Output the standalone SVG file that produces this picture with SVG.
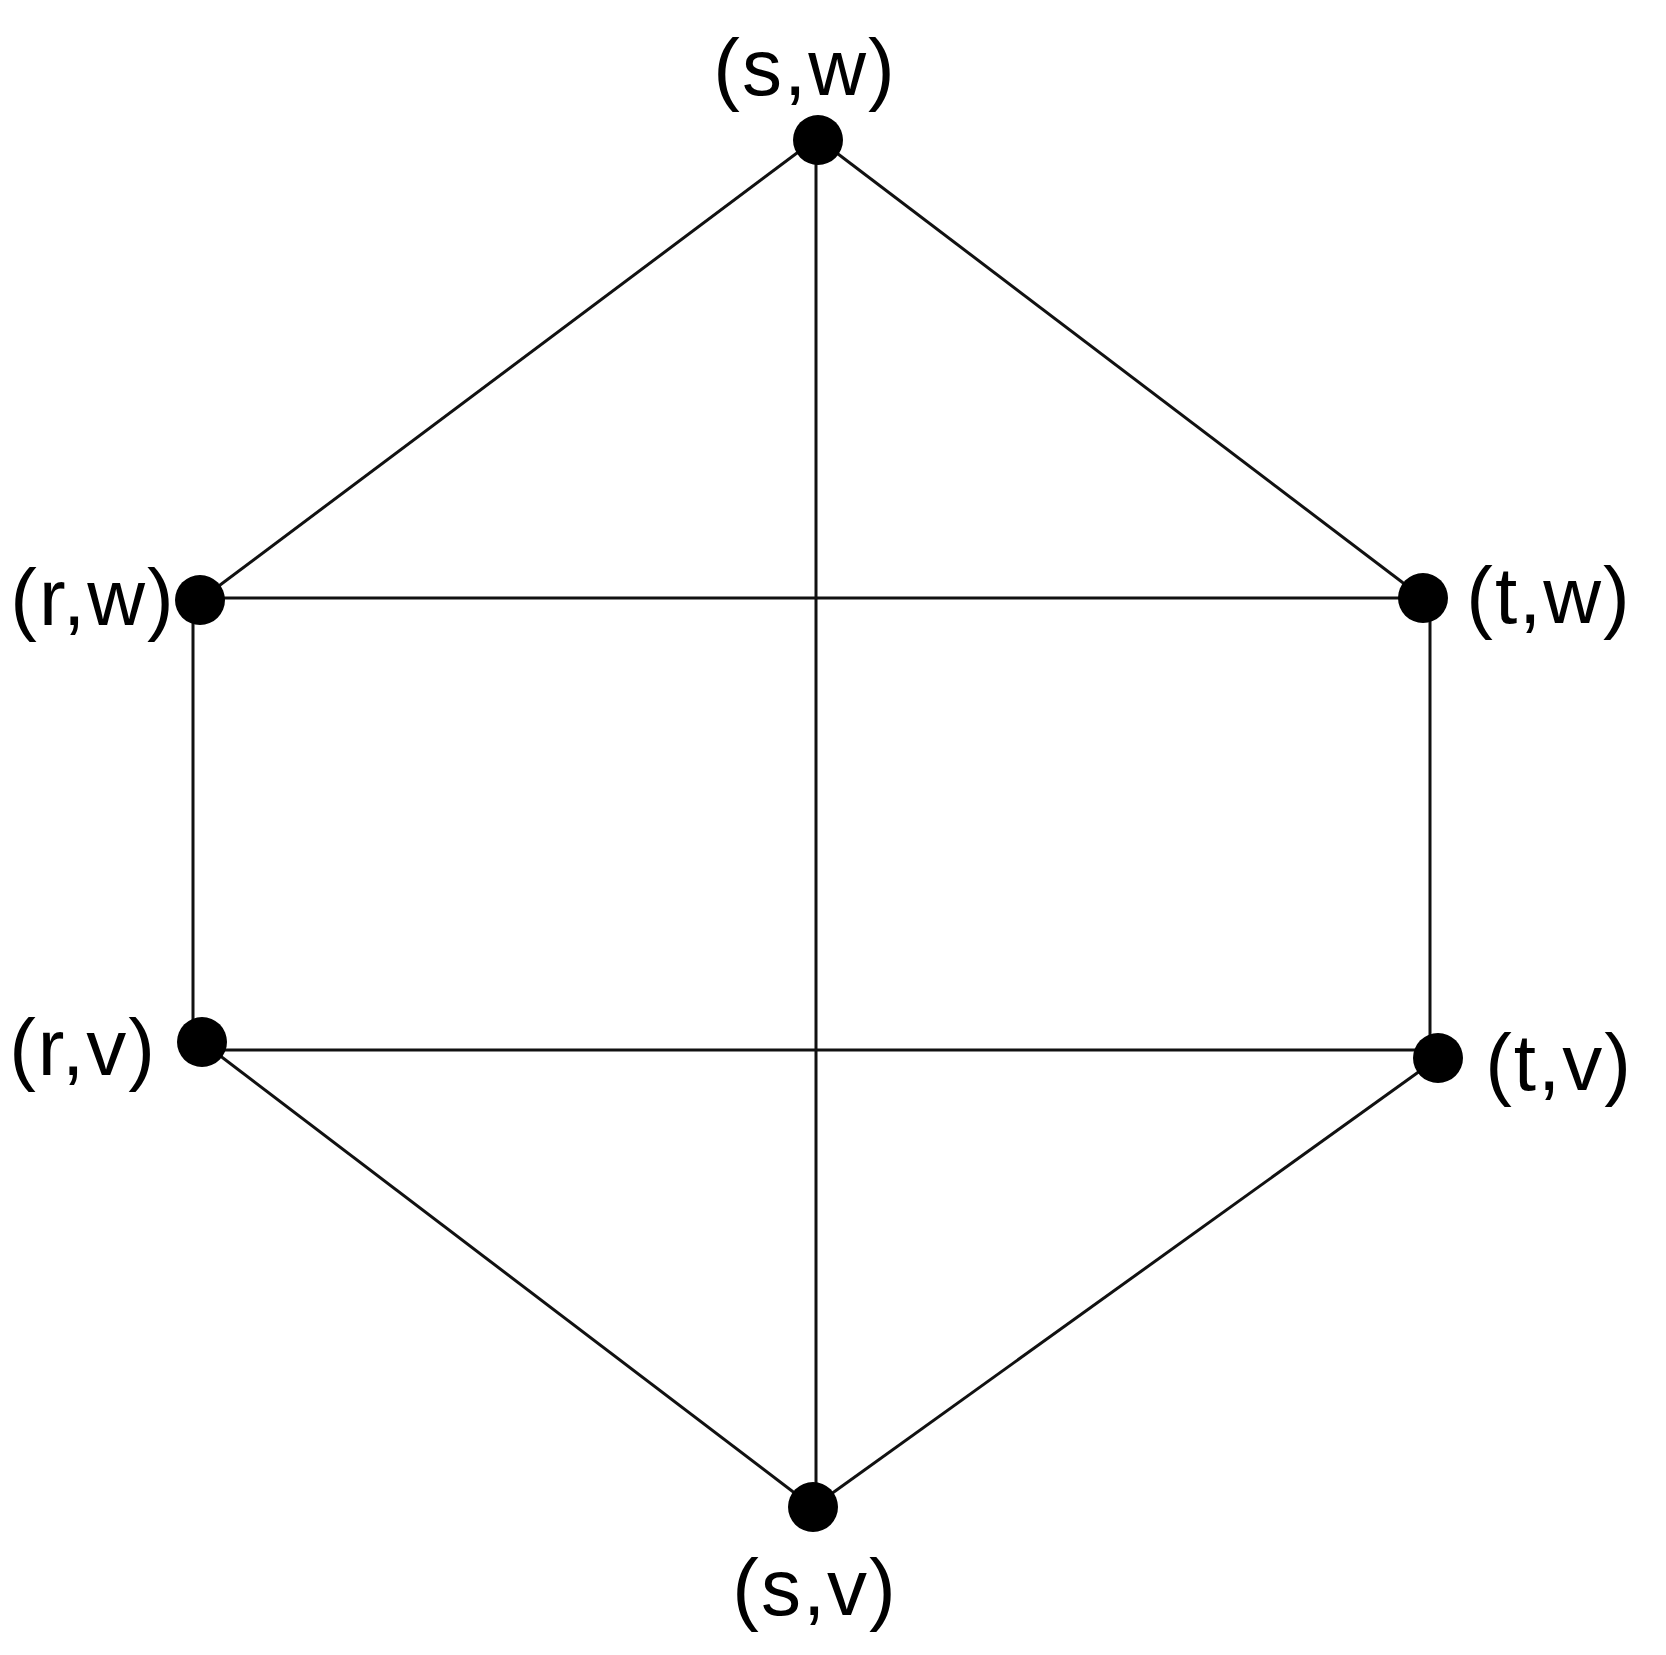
<svg xmlns="http://www.w3.org/2000/svg" width="1666" height="1655" viewBox="0 0 1666 1655">
<style>
.e{stroke:#111;stroke-width:3;fill:none}
.n{fill:#000}
.t{font-family:"Liberation Sans",Arial,sans-serif;font-size:80px;letter-spacing:2px;fill:#000;text-anchor:middle}
</style>
<rect width="1666" height="1655" fill="#fff"/>
<g id="edges">
<line class="e" x1="817" y1="138" x2="200" y2="600"/>
<line class="e" x1="817" y1="138" x2="1423" y2="598"/>
<line class="e" x1="816" y1="138" x2="816" y2="1507"/>
<line class="e" x1="200" y1="598" x2="1423" y2="598"/>
<line class="e" x1="193" y1="600" x2="193" y2="1042"/>
<line class="e" x1="1430" y1="598" x2="1430" y2="1060"/>
<line class="e" x1="202" y1="1050" x2="1438" y2="1050"/>
<line class="e" x1="202" y1="1042" x2="813" y2="1507"/>
<line class="e" x1="1438" y1="1058" x2="813" y2="1507"/>
</g>
<g id="n-sw"><circle class="n" cx="818" cy="140" r="25"/><text class="t" x="805" y="95">(s,w)</text></g>
<g id="n-rw"><circle class="n" cx="200" cy="600" r="25"/><text class="t" x="93" y="625">(r,w)</text></g>
<g id="n-tw"><circle class="n" cx="1423" cy="598" r="25"/><text class="t" x="1549" y="623">(t,w)</text></g>
<g id="n-rv"><circle class="n" cx="202" cy="1042" r="25"/><text class="t" x="83" y="1075">(r,v)</text></g>
<g id="n-tv"><circle class="n" cx="1438" cy="1058" r="25"/><text class="t" x="1559" y="1090">(t,v)</text></g>
<g id="n-sv"><circle class="n" cx="813" cy="1507" r="25"/><text class="t" x="815" y="1615">(s,v)</text></g>
</svg>
